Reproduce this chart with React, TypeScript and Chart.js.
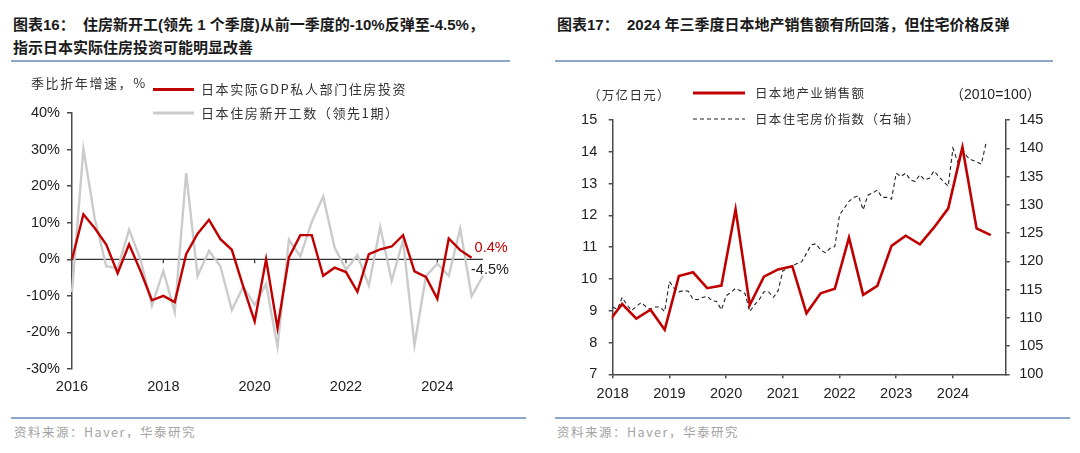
import React, { useEffect, useRef } from "react";
import { Chart, registerables } from "chart.js";
Chart.register(...registerables);

// ---------- Left chart data (quarterly, from 2016Q1) ----------
const leftStartYear = 2016;
const gdpHousingInvest = [0, 12.3, 8.5, 4, -3.8, 4.1, -3.2, -11.2, -10, -11.7, 1.4, 7, 10.8, 5.5, 2.6, -7.5, -17, 0, -18.8, 0.5, 6.6, 6.6, -4.5, -2.3, -3.5, -8.9, 1.4, 2.7, 3.5, 6.6, -3.3, -4.8, -10.8, 5.7, 2.5, 0.4];
const housingStartsLead = [-9, 30.2, 11, -1.9, -2.5, 8.1, 0, -12.7, -3.2, -14.5, 23.6, -4.6, 2.3, -1.9, -13.9, -7.5, -12.5, -6.8, -23.9, 5.4, 0.8, 10.2, 17.2, 3.2, -2.8, 1.1, -7.2, 8.8, -5.9, 5.2, -23.5, -4.6, -1.2, -4.5, 8.4, -10.1, -4.5];
const leftYearTicks = ["2016", "2018", "2020", "2022", "2024"];

// ---------- Right chart data ----------
// property sales, quarterly (quarter-end months), from 2017-12
const salesStartYear = 2017;
const salesStartMonth = 12;
const propertySales = [8.63, 9.21, 8.75, 9.03, 8.4, 10.09, 10.21, 9.71, 9.79, 12.19, 9.18, 10.07, 10.3, 10.4, 8.92, 9.55, 9.69, 11.3, 9.5, 9.78, 11.04, 11.36, 11.09, 11.62, 12.22, 14.14, 11.59, 11.38];
// house price index, monthly, from 2018-01
const priceStartYear = 2018;
const housePriceIndex = [
  111.9, 111.5, 113.6, 112.3, 111.3, 112.0, 112.7, 112.0, 111.5, 111.9, 111.9, 111.1,
  116.4, 115.2, 114.6, 114.8, 114.7, 113.3, 113.2, 113.6, 113.8, 113.0, 112.9, 111.4,
  113.9, 114.5, 115.2, 114.8, 114.3, 111.1, 112.3, 113.2, 114.6, 114.6, 113.6, 114.8,
  118.3, 118.8, 119.2, 119.6, 119.9, 121.4, 122.9, 123.1, 122.0, 121.5, 122.3, 122.6,
  128.2, 129.4, 130.6, 131.3, 131.6, 129.1, 131.7, 132.1, 132.6, 131.3, 131.3, 131.0,
  135.6, 135.0, 135.6, 134.4, 134.1, 135.3, 134.4, 134.7, 136.0, 135.0, 134.1, 133.3,
  140.0, 137.6, 139.8, 138.5, 137.9, 137.6, 137.2, 140.9,
];
const rightYearTicks = [2018, 2019, 2020, 2021, 2022, 2023, 2024];

const RED = "#c00000";
const GRAY = "#cbcbcb";
const AXIS = "#4a4a4a";
const FONT_NUM = '"Liberation Sans", Arial, "Noto Sans CJK SC", sans-serif';
const FONT_CJK = '"Noto Sans CJK SC", "Liberation Sans", sans-serif';

function setSpacing(ctx: any, v: string) {
  try { ctx.letterSpacing = v; } catch (e) {}
}

function LeftChart() {
  const ref = useRef<HTMLCanvasElement>(null);
  useEffect(() => {
    const labels: string[] = [];
    for (let i = 0; i < housingStartsLead.length; i++) {
      labels.push(`${leftStartYear + Math.floor(i / 4)}Q${(i % 4) + 1}`);
    }
    const isYearTick = (i: number) => labels[i].endsWith("Q1") && leftYearTicks.includes(labels[i].slice(0, 4));
    const zeroLine = {
      id: "zeroLine",
      beforeDatasetsDraw(chart: any) {
        const { ctx, chartArea, scales } = chart;
        const y = scales.y.getPixelForValue(0);
        ctx.save();
        ctx.strokeStyle = "#333";
        ctx.lineWidth = 1.2;
        ctx.beginPath();
        ctx.moveTo(chartArea.left, y);
        ctx.lineTo(chartArea.right, y);
        labels.forEach((_l, i) => {
          if (i > 0 && isYearTick(i)) {
            const x = scales.x.getPixelForValue(i);
            ctx.moveTo(x, y);
            ctx.lineTo(x, y + 4);
          }
        });
        ctx.stroke();
        ctx.restore();
      },
    };
    const overlay = {
      id: "overlay",
      afterDraw(chart: any) {
        const { ctx, scales, chartArea } = chart;
        ctx.save();
        ctx.textBaseline = "middle";
        ctx.textAlign = "left";
        ctx.font = `13px ${FONT_CJK}`;
        ctx.fillStyle = "#333";
        setSpacing(ctx, "1.6px");
        ctx.fillText("季比折年增速，%", 31, 13);
        // legend
        ctx.lineWidth = 3;
        ctx.strokeStyle = RED;
        ctx.beginPath(); ctx.moveTo(153, 19.5); ctx.lineTo(194, 19.5); ctx.stroke();
        ctx.strokeStyle = GRAY;
        ctx.beginPath(); ctx.moveTo(153, 43); ctx.lineTo(194, 43); ctx.stroke();
        ctx.fillStyle = "#333";
        ctx.fillText(chart.data.datasets[0].label, 201, 19.5);
        ctx.fillText(chart.data.datasets[1].label, 201, 43);
        // end labels
        setSpacing(ctx, "0px");
        ctx.font = `14.5px ${FONT_NUM}`;
        const ri = gdpHousingInvest.length - 1;
        const rv = gdpHousingInvest[ri];
        ctx.fillStyle = RED;
        ctx.fillText(`${rv}%`, scales.x.getPixelForValue(ri) + 3, scales.y.getPixelForValue(rv) - 10);
        const gi = housingStartsLead.length - 1;
        const gv = housingStartsLead[gi];
        ctx.fillStyle = "#222";
        ctx.fillText(`${gv}%`, scales.x.getPixelForValue(gi) - 12, scales.y.getPixelForValue(gv) - 6);
        // year labels under the plot
        ctx.textAlign = "center";
        ctx.fillStyle = "#222";
        labels.forEach((l, i) => {
          if (isYearTick(i)) ctx.fillText(l.slice(0, 4), scales.x.getPixelForValue(i), chartArea.bottom + 18);
        });
        ctx.restore();
      },
    };
    const chart = new Chart(ref.current as HTMLCanvasElement, {
      type: "line",
      data: {
        labels,
        datasets: [
          { label: "日本实际GDP私人部门住房投资", data: gdpHousingInvest, borderColor: RED, borderWidth: 2.4, pointRadius: 0, tension: 0 },
          { label: "日本住房新开工数（领先1期）", data: housingStartsLead, borderColor: GRAY, borderWidth: 2.4, pointRadius: 0, tension: 0 },
        ],
      },
      options: {
        responsive: false,
        animation: false,
        layout: { padding: { left: 0, right: 57, top: 43, bottom: 0 } },
        plugins: { legend: { display: false }, tooltip: { enabled: false } },
        scales: {
          x: {
            type: "category",
            offset: false,
            grid: { display: false },
            border: { display: false },
            ticks: { display: false },
            afterFit: (s: any) => { s.height = 46; },
          },
          y: {
            min: -30,
            max: 40,
            ticks: { stepSize: 10, padding: 7, color: "#222", font: { family: FONT_NUM, size: 14.5 }, callback: (v: any) => `${v}%` },
            grid: { drawOnChartArea: false, drawTicks: true, tickLength: 5, color: AXIS, lineWidth: 1.5 },
            border: { color: AXIS, width: 1.5 },
            afterFit: (s: any) => { s.width = 72; },
          },
        },
      } as any,
      plugins: [zeroLine, overlay],
    });
    return () => chart.destroy();
  }, []);
  return <canvas ref={ref} width={540} height={345} style={{ position: "absolute", left: 0, top: 70, width: 540, height: 345 }} />;
}

function RightChart() {
  const ref = useRef<HTMLCanvasElement>(null);
  useEffect(() => {
    const salesPts = propertySales.map((v, i) => {
      const m = salesStartMonth + i * 3;
      return { x: salesStartYear + (m - 1) / 12, y: v };
    });
    const pricePts = housePriceIndex.map((v, i) => ({ x: priceStartYear + i / 12, y: v }));
    const overlay = {
      id: "overlay",
      afterDraw(chart: any) {
        const { ctx } = chart;
        ctx.save();
        ctx.textBaseline = "middle";
        ctx.textAlign = "left";
        ctx.font = `12.5px ${FONT_CJK}`;
        ctx.fillStyle = "#333";
        setSpacing(ctx, "1.3px");
        ctx.fillText("（万亿日元）", 48, 25);
        ctx.lineWidth = 3;
        ctx.strokeStyle = RED;
        ctx.beginPath(); ctx.moveTo(153, 23); ctx.lineTo(205, 23); ctx.stroke();
        ctx.lineWidth = 1.2;
        ctx.strokeStyle = "#222";
        ctx.setLineDash([4, 3]);
        ctx.beginPath(); ctx.moveTo(153, 49); ctx.lineTo(205, 49); ctx.stroke();
        ctx.setLineDash([]);
        ctx.fillText(chart.data.datasets[0].label, 215, 23);
        ctx.fillText(chart.data.datasets[1].label, 215, 49);
        setSpacing(ctx, "0px");
        ctx.font = `14px ${FONT_NUM}`;
        ctx.fillStyle = "#222";
        ctx.fillText("（2010=100）", 410, 25);
        ctx.restore();
      },
    };
    const tickFont = { family: FONT_NUM, size: 14.5 };
    const chart = new Chart(ref.current as HTMLCanvasElement, {
      type: "line",
      data: {
        datasets: [
          { label: "日本地产业销售额", data: salesPts, yAxisID: "y", borderColor: RED, borderWidth: 2.6, pointRadius: 0, tension: 0, clip: 1 },
          { label: "日本住宅房价指数（右轴）", data: pricePts, yAxisID: "y1", borderColor: "#222", borderWidth: 1.1, borderDash: [4, 3], pointRadius: 0, tension: 0, clip: 1 },
        ],
      },
      options: {
        responsive: false,
        animation: false,
        layout: { padding: { left: 0, right: 0, top: 50, bottom: 0 } },
        plugins: { legend: { display: false }, tooltip: { enabled: false } },
        scales: {
          x: {
            type: "linear",
            min: rightYearTicks[0],
            max: 2024.93,
            afterBuildTicks: (s: any) => { s.ticks = rightYearTicks.map((v) => ({ value: v })); },
            ticks: { padding: 7, color: "#222", font: tickFont, callback: (v: any) => String(v) },
            grid: { drawOnChartArea: false, tickLength: 4, color: AXIS, lineWidth: 1.5 },
            border: { color: AXIS, width: 1.5 },
            afterFit: (s: any) => { s.height = 25.7; },
          },
          y: {
            position: "left",
            min: 7,
            max: 15,
            ticks: { stepSize: 1, padding: 11.5, color: "#222", font: tickFont },
            grid: { drawOnChartArea: false, tickLength: 4, color: AXIS, lineWidth: 1.5 },
            border: { color: AXIS, width: 1.5 },
            afterFit: (s: any) => { s.width = 72.7; },
          },
          y1: {
            position: "right",
            min: 100,
            max: 145,
            ticks: { stepSize: 5, padding: 9.5, color: "#222", font: tickFont },
            grid: { drawOnChartArea: false, tickLength: 4, color: AXIS, lineWidth: 1.5 },
            border: { color: AXIS, width: 1.5 },
            afterFit: (s: any) => { s.width = 74.3; },
          },
        },
      } as any,
      plugins: [overlay],
    });
    return () => chart.destroy();
  }, []);
  return <canvas ref={ref} width={540} height={330} style={{ position: "absolute", left: 540, top: 70, width: 540, height: 330 }} />;
}

export default function App() {
  const titleStyle: React.CSSProperties = {
    position: "absolute",
    top: 13,
    fontSize: 15,
    lineHeight: "23px",
    fontWeight: 700,
    fontFamily: FONT_NUM,
    color: "#1a1a1a",
    whiteSpace: "nowrap",
  };
  const rule = (left: number, top: number, width: number): React.CSSProperties => ({
    position: "absolute", left, top, width, height: 1.5, background: "#8da5c7",
  });
  const footStyle: React.CSSProperties = {
    position: "absolute", top: 423, fontSize: 12.5, lineHeight: "18px", fontFamily: FONT_CJK, color: "#a3a3a3", letterSpacing: "1.5px", whiteSpace: "nowrap",
  };
  return (
    <div style={{ position: "absolute", left: 0, top: 0, width: 1080, height: 453, background: "#fff", overflow: "hidden" }}>
      <div style={{ ...titleStyle, left: 13 }}>
        图表16：&nbsp; 住房新开工(领先 1 个季度)从前一季度的-10%反弹至-4.5%，<br />指示日本实际住房投资可能明显改善
      </div>
      <div style={{ ...titleStyle, left: 557 }}>图表17：&nbsp; 2024 年三季度日本地产销售额有所回落，但住宅价格反弹</div>
      <div style={rule(11, 60, 499)} />
      <div style={rule(555, 60, 498)} />
      <LeftChart />
      <RightChart />
      <div style={rule(11, 417, 515)} />
      <div style={rule(555, 417, 515)} />
      <div style={{ ...footStyle, left: 14 }}>资料来源：Haver，华泰研究</div>
      <div style={{ ...footStyle, left: 557 }}>资料来源：Haver，华泰研究</div>
    </div>
  );
}
